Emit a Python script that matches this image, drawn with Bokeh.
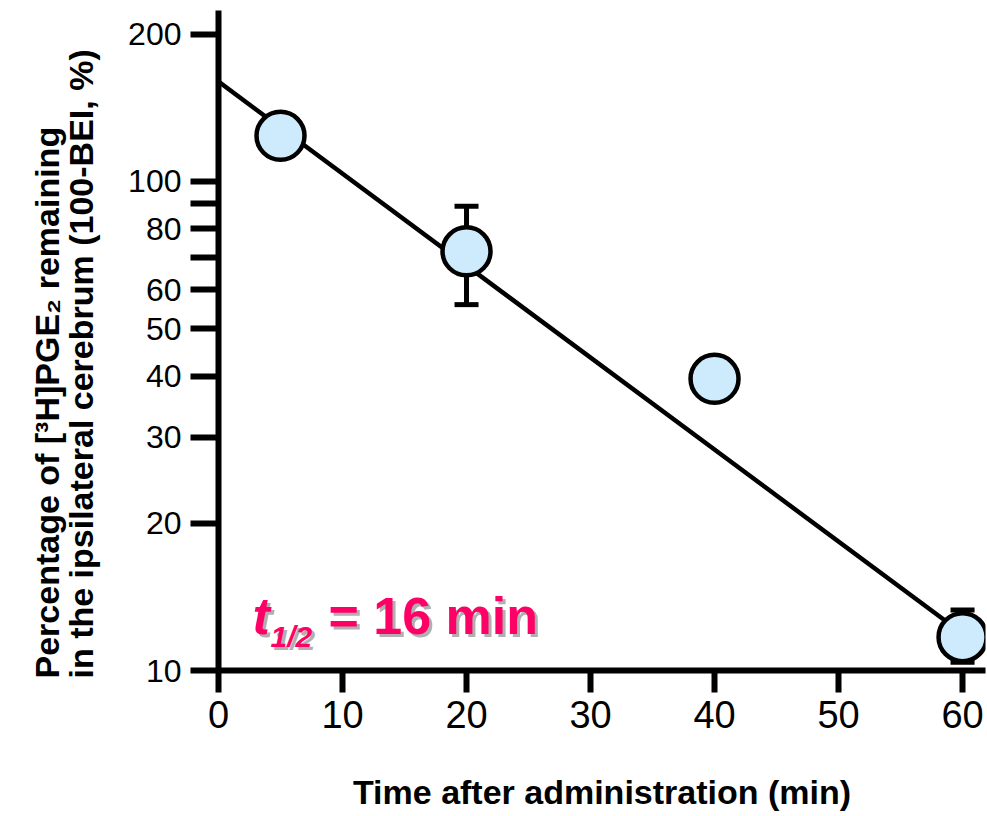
from bokeh.plotting import figure
from bokeh.models import Range1d, FixedTicker, Whisker, ColumnDataSource, Label, TeeHead, Title
from bokeh.embed import file_html
from bokeh.resources import INLINE

# ---- data ----
time_min = [5, 20, 40, 60]
pct_remaining = [124, 72, 39.5, 11.7]

err_time = [20, 60]
err_lower = [56, 10.4]
err_upper = [89, 13.3]

fit_time = [0, 60]
fit_pct = [160, 11.9]

x_ticks = [0, 10, 20, 30, 40, 50, 60]
y_ticks = [10, 20, 30, 40, 50, 60, 70, 80, 90, 100, 200]
y_tick_labels = ["10", "20", "30", "40", "50", "60", "", "80", "", "100", "200"]

FONT = "Liberation Sans"

p = figure(width=987, height=816, x_range=Range1d(0, 61.85), y_range=Range1d(10, 223.7),
           y_axis_type="log", output_backend="svg", toolbar_location=None,
           min_border_left=218, min_border_right=2, min_border_top=10, min_border_bottom=146)
p.outline_line_color = None
p.xgrid.visible = False
p.ygrid.visible = False
p.background_fill_color = "white"

# error bars
esrc = ColumnDataSource(dict(x=err_time, lower=err_lower, upper=err_upper))
p.add_layout(Whisker(base="x", lower="lower", upper="upper", source=esrc, line_width=5,
                     line_color="black", level="underlay",
                     upper_head=TeeHead(size=24, line_width=5, line_color="black"),
                     lower_head=TeeHead(size=24, line_width=5, line_color="black")))

# fit line
p.line(fit_time, fit_pct, line_width=4.5, line_color="black")

# points
p.scatter(time_min, pct_remaining, size=48, fill_color="#CDEBFC", line_color="black", line_width=4.5)

# axes
for ax in (p.xaxis, p.yaxis):
    ax.axis_line_width = 6
    ax.major_tick_line_width = 6
    ax.major_tick_in = 0
    ax.minor_tick_line_color = None
    ax.major_label_text_font = FONT
    ax.major_label_text_color = "black"
    ax.axis_line_color = "black"
    ax.major_tick_line_color = "black"

p.xaxis.ticker = FixedTicker(ticks=x_ticks)
p.xaxis.major_tick_out = 22
p.xaxis.major_label_standoff = 8
p.xaxis.major_label_text_font_size = "38px"
p.xaxis.axis_label = "Time after administration (min)"
p.xaxis.axis_label_text_font = FONT
p.xaxis.axis_label_text_font_size = "34px"
p.xaxis.axis_label_text_font_style = "bold"
p.xaxis.axis_label_text_color = "black"
p.xaxis.axis_label_standoff = 42

p.yaxis.ticker = FixedTicker(ticks=y_ticks)
p.yaxis.major_label_overrides = {t: lab for t, lab in zip(y_ticks, y_tick_labels)}
p.yaxis.major_tick_out = 28
p.yaxis.major_label_standoff = 9
p.yaxis.major_label_text_font_size = "32px"

p.add_layout(Title(text="Percentage of [\u00b3H]PGE\u2082 remaining\nin the ipsilateral cerebrum (100-BEI, %)",
                   align="left", text_font=FONT, text_font_size="34px", text_font_style="bold",
                   text_color="black", text_line_height=0.92, standoff=50, offset=-8), "left")

# t1/2 annotation with shadow
PINK = "#FF0066"
SHADOW = "#B0B0B0"
pieces = [
    ("t", 0, 0, "52px", "bold italic"),
    ("1/2", 18, -20, "30px", "bold italic"),
    ("= 16 min", 76, 0, "52px", "bold"),
]
for dx, dy, col in ((3, -3, SHADOW), (0, 0, PINK)):
    for txt, xo, yo, fs, st in pieces:
        p.add_layout(Label(x=2.74, y=12.9, x_offset=xo + dx, y_offset=yo + dy, text=txt,
                           text_font=FONT, text_font_size=fs, text_font_style=st,
                           text_color=col, text_baseline="middle", text_align="left"))

open("out.html", "w").write(file_html(p, INLINE))
